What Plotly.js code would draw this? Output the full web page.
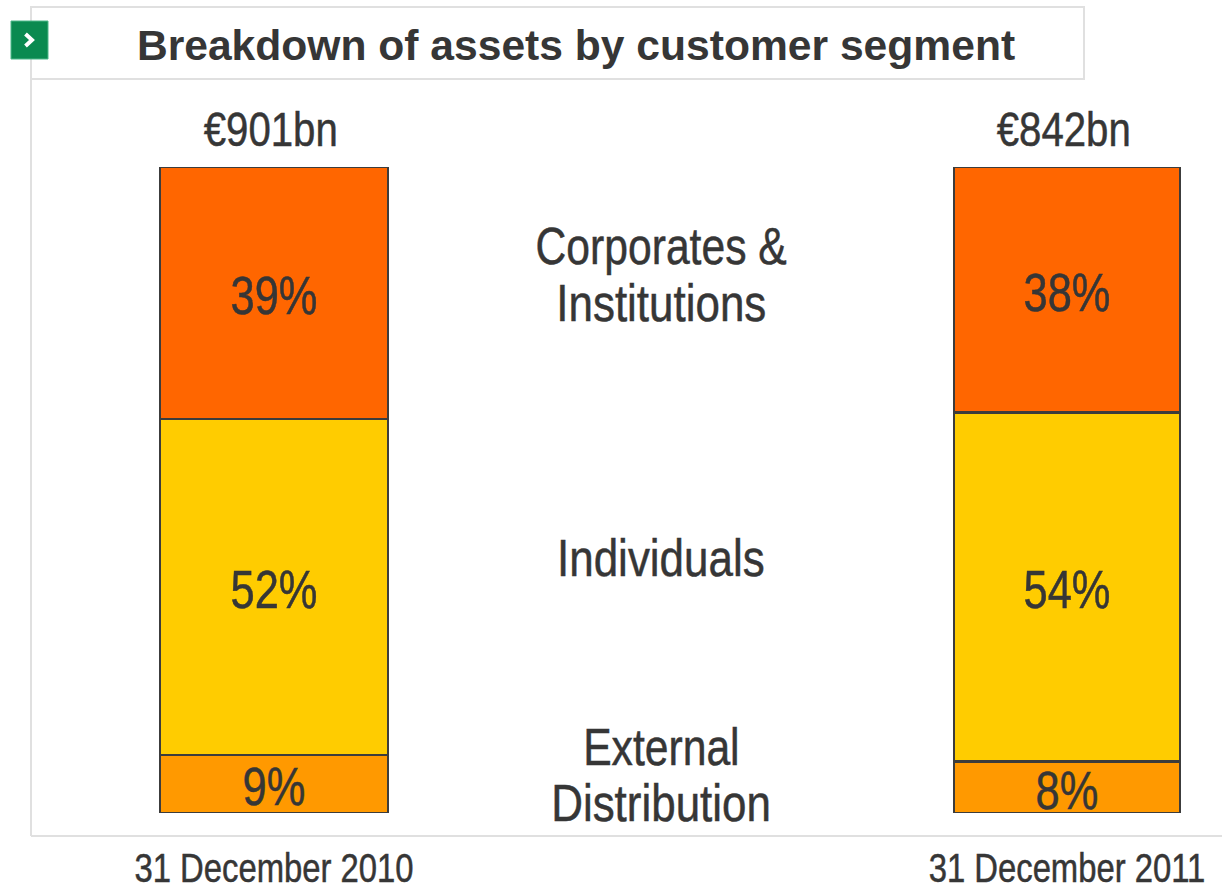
<!DOCTYPE html>
<html>
<head>
<meta charset="utf-8">
<script src="https://cdn.plot.ly/plotly-3.0.1.min.js"></script>
<style>
html,body{margin:0;padding:0;background:#fff;overflow:hidden}
#chart{width:1222px;height:885px}
#chart .annotation-text, #chart .xtick text, #chart text.bartext{stroke:#363636;stroke-width:0.5px}
</style>
</head>
<body>
<div id="chart"></div>
<script>
const dates = ["31 December 2010", "31 December 2011"];
const totals = ["€901bn", "€842bn"];
const external = [9, 8];
const individuals = [52, 54];
const corporates = [39, 38];
const seriesLabels = ["Corporates &", "Institutions", "Individuals", "External", "Distribution"];
const chartTitle = "Breakdown of assets by customer segment";

const W = 1222, H = 885;
const sans = '"Liberation Sans", Arial, sans-serif';
const ink = "#363636";
const px = v => v / W;
const py = v => (813 - v) / 646;

function bar(name, values, color) {
  return {
    type: "bar", name, x: dates, y: values, width: [0.2872, 0.285],
    marker: {color, line: {color: "#3c3c3c", width: 2.5}},
    text: values.map(v => v + "%"), textposition: "inside", insidetextanchor: "middle",
    textangle: 0, constraintext: "none",
    textfont: {family: sans, size: 53, color: ink},
    hoverinfo: "name+y"
  };
}
const data = [
  bar("External Distribution", external, "#ff9900"),
  bar("Individuals", individuals, "#ffcc00"),
  bar("Corporates & Institutions", corporates, "#ff6600")
];

const frame = {color: "#e0e0e0", width: 2};
const shapes = [
  {type: "rect", xref: "paper", yref: "paper", x0: px(31), x1: px(1084), y0: py(79), y1: py(7), line: frame},
  {type: "line", xref: "paper", yref: "paper", x0: px(31), x1: px(31), y0: py(79), y1: py(836), line: frame},
  {type: "line", xref: "paper", yref: "paper", x0: px(31), x1: px(1222), y0: py(836), y1: py(836), line: frame},
  {type: "rect", xref: "paper", yref: "paper", x0: px(11), x1: px(48), y0: py(59), y1: py(21), fillcolor: "#0a8a50", line: {color: "#4fb88a", width: 1}},
  {type: "path", xref: "paper", yref: "paper",
   path: `M ${px(25.5)} ${py(34)} L ${px(32)} ${py(40)} L ${px(25.5)} ${py(46)}`,
   line: {color: "#ffffff", width: 4}}
];

const labelY = [246, 303, 558, 747, 803];
const annotations = [
  ...totals.map((t, i) => ({
    text: t, x: dates[i], y: 100, xref: "x", yref: "y", xanchor: "center", yanchor: "bottom", xshift: -3, yshift: 9, showarrow: false,
    font: {family: sans, size: 49, color: ink}
  })),
  ...seriesLabels.map((t, i) => ({
    text: t, x: px(661), y: py(labelY[i]), xref: "paper", yref: "paper", xanchor: "center", yanchor: "middle", showarrow: false,
    font: {family: sans, size: 52, color: ink}
  }))
];

const layout = {
  width: W, height: H, showlegend: false, barmode: "stack",
  paper_bgcolor: "#fff", plot_bgcolor: "rgba(0,0,0,0)",
  margin: {l: 0, r: 0, t: 167, b: 72, pad: 0},
  title: {text: "<b>" + chartTitle + "</b>", x: 576 / W, xanchor: "center", y: 1 - 45 / H, yanchor: "middle",
          font: {family: sans, size: 42.6, color: ink}},
  xaxis: {type: "category", range: [-0.3455, 1.1955], showgrid: false, zeroline: false, showline: false,
          ticks: "", ticklen: 0, ticklabelstandoff: 28, tickfont: {family: sans, size: 40, color: ink}, automargin: false, fixedrange: true},
  yaxis: {range: [0, 100], visible: false, fixedrange: true},
  shapes, annotations
};
const widerLabels = ["Institutions", "Individuals", "Distribution"];
function narrow(el) {
  const ratio = widerLabels.includes(el.textContent) ? 0.845 : 0.82;
  const len = el.getComputedTextLength();
  el.setAttribute("lengthAdjust", "spacingAndGlyphs");
  el.setAttribute("textLength", (len * ratio).toFixed(1));
}
Plotly.newPlot("chart", data, layout, {displayModeBar: false, responsive: false}).then(gd => {
  gd.querySelectorAll(".annotation-text, .xtick text, text.bartext").forEach(narrow);
  gd.querySelectorAll("text.bartext").forEach(el => el.setAttribute("dy", "3"));
});
</script>
</body>
</html>
